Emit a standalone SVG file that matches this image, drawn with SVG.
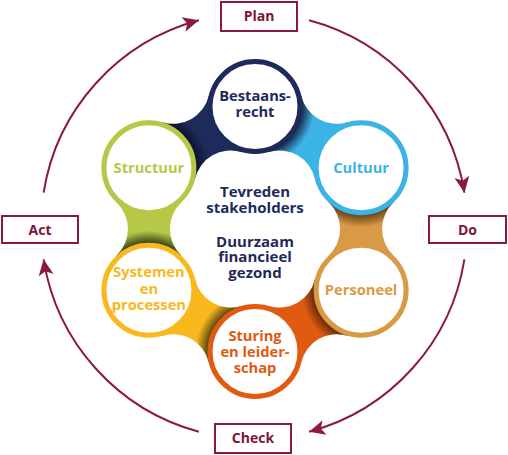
<svg xmlns="http://www.w3.org/2000/svg" width="508" height="455" viewBox="0 0 508 455">
<style>
.box{fill:#fff;stroke:#8b1a42;stroke-width:2}
.bt{font-family:"Open Sans","Liberation Sans",sans-serif;font-weight:700;font-size:14px;fill:#7d1538;text-anchor:middle}
.cyc{fill:none;stroke:#8b1a42;stroke-width:2;marker-end:url(#ah)}
.ring{fill:#fff;stroke-width:5}
.lt{font-family:"Open Sans","Liberation Sans",sans-serif;font-weight:700;font-size:14.7px;text-anchor:middle}
.ct{font-family:"Open Sans","Liberation Sans",sans-serif;font-weight:700;font-size:15px;text-anchor:middle;fill:#1e2a5a}
</style>
<defs>
<marker id="ah" viewBox="-17 -9 18 18" markerWidth="18" markerHeight="18" refX="0" refY="0" orient="auto" markerUnits="userSpaceOnUse">
<path d="M0,0 L-16,-7.5 L-12,0 L-16,7.5 Z" fill="#8b1a42"/>
</marker>
<path id="band" d="M148.91,167.75 L162.63,122.28 A36.53,36.53 0 0 0 208.76,95.65 L255,106.5 L241.28,151.97 A36.53,36.53 0 0 0 195.15,178.6 Z"/>
<radialGradient id="g0" gradientUnits="userSpaceOnUse" cx="148.91" cy="167.75" r="64"><stop offset="0.74" stop-color="#0c1230"/><stop offset="0.93" stop-color="#1e2a5a"/></radialGradient>
<radialGradient id="g1" gradientUnits="userSpaceOnUse" cx="148.91" cy="167.75" r="64"><stop offset="0.74" stop-color="#1b2f55"/><stop offset="0.93" stop-color="#3bb3e6"/></radialGradient>
<radialGradient id="g2" gradientUnits="userSpaceOnUse" cx="148.91" cy="167.75" r="64"><stop offset="0.74" stop-color="#6a4518"/><stop offset="0.93" stop-color="#d99a45"/></radialGradient>
<radialGradient id="g3" gradientUnits="userSpaceOnUse" cx="148.91" cy="167.75" r="64"><stop offset="0.74" stop-color="#6a2a08"/><stop offset="0.93" stop-color="#e05a12"/></radialGradient>
<radialGradient id="g4" gradientUnits="userSpaceOnUse" cx="148.91" cy="167.75" r="64"><stop offset="0.74" stop-color="#5c4a12"/><stop offset="0.93" stop-color="#f8b81e"/></radialGradient>
<radialGradient id="g5" gradientUnits="userSpaceOnUse" cx="148.91" cy="167.75" r="64"><stop offset="0.74" stop-color="#3a4616"/><stop offset="0.93" stop-color="#b6c846"/></radialGradient>
</defs>

<g id="connectors">
<path class="cyc" d="M309.1,20.3 A213,213 0 0 1 464.4,192.7"/>
<path class="cyc" d="M464.4,259.3 A213,213 0 0 1 309.1,431.7"/>
<path class="cyc" d="M198.9,431.7 A213,213 0 0 1 43.6,259.3"/>
<path class="cyc" d="M43.6,192.7 A213,213 0 0 1 198.9,20.3"/>
</g>

<g id="bands">
<use href="#band" fill="url(#g0)"/>
<use href="#band" fill="url(#g1)" transform="rotate(60 255 229)"/>
<use href="#band" fill="url(#g2)" transform="rotate(120 255 229)"/>
<use href="#band" fill="url(#g3)" transform="rotate(180 255 229)"/>
<use href="#band" fill="url(#g4)" transform="rotate(240 255 229)"/>
<use href="#band" fill="url(#g5)" transform="rotate(300 255 229)"/>
</g>

<g id="plan"><rect class="box" x="221" y="2" width="76" height="29"/><text class="bt" x="259" y="21">Plan</text></g>
<g id="do"><rect class="box" x="429" y="216" width="77" height="27"/><text class="bt" x="467.5" y="234.5">Do</text></g>
<g id="check"><rect class="box" x="215" y="424" width="76" height="29"/><text class="bt" x="253" y="443">Check</text></g>
<g id="act"><rect class="box" x="2" y="216" width="76" height="27"/><text class="bt" x="40" y="234.5">Act</text></g>

<g id="center">
<text class="ct" x="255" y="197">Tevreden</text>
<text class="ct" x="255" y="213.3">stakeholders</text>
<text class="ct" x="255" y="246.8">Duurzaam</text>
<text class="ct" x="255" y="262.2">financieel</text>
<text class="ct" x="255" y="277.6">gezond</text>
</g>

<g id="bestaansrecht"><circle class="ring" cx="255" cy="106.5" r="45" stroke="#1e2a5a"/>
<text class="lt" fill="#1e2a5a" x="255" y="100.5">Bestaans-</text><text class="lt" fill="#1e2a5a" x="255" y="116.5">recht</text></g>
<g id="cultuur"><circle class="ring" cx="361.1" cy="167.75" r="45" stroke="#3bb3e6"/>
<text class="lt" fill="#3bb3e6" x="361.1" y="172.5">Cultuur</text></g>
<g id="personeel"><circle class="ring" cx="361.1" cy="290.25" r="45" stroke="#d99a45"/>
<text class="lt" fill="#d99a45" x="361.1" y="295">Personeel</text></g>
<g id="sturing"><circle class="ring" cx="255" cy="351.5" r="45" stroke="#e05a12"/>
<text class="lt" fill="#e05a12" x="255" y="341">Sturing</text><text class="lt" fill="#e05a12" x="255" y="357">en leider-</text><text class="lt" fill="#e05a12" x="255" y="373">schap</text></g>
<g id="systemen"><circle class="ring" cx="148.9" cy="290.25" r="45" stroke="#f8b81e"/>
<text class="lt" fill="#f8b81e" x="148.9" y="277">Systemen</text><text class="lt" fill="#f8b81e" x="148.9" y="293.5">en</text><text class="lt" fill="#f8b81e" x="148.9" y="310">processen</text></g>
<g id="structuur"><circle class="ring" cx="148.9" cy="167.75" r="45" stroke="#b6c846"/>
<text class="lt" fill="#b6c846" x="148.9" y="172.5">Structuur</text></g>
</svg>
